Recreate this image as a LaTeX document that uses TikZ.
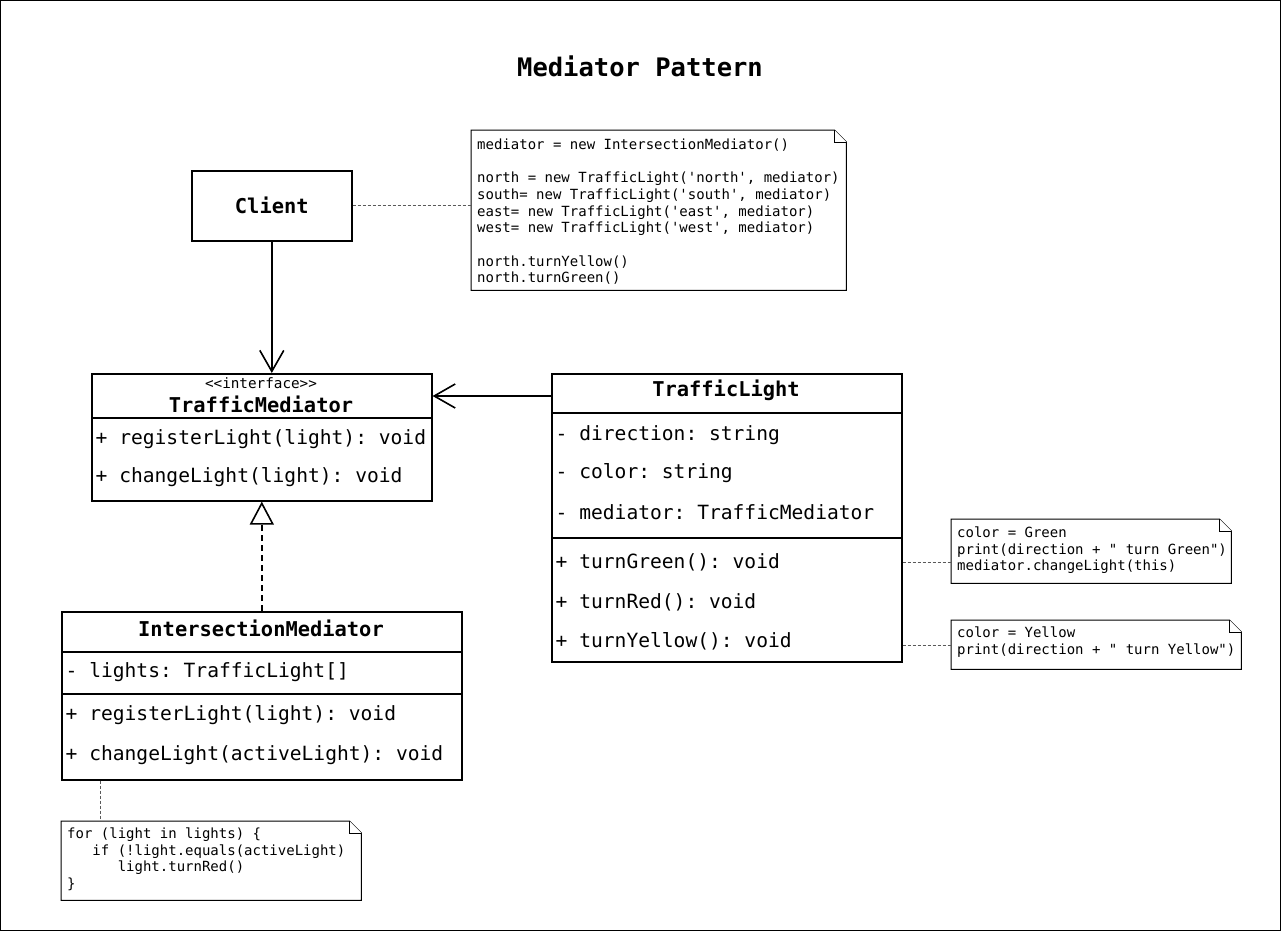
\documentclass[tikz,border=0pt]{standalone}
\usepackage{fontspec}
\setmonofont{DejaVu Sans Mono}
\usetikzlibrary{arrows.meta}
\newcommand\notefold[1]{%
  \draw[noteline] (#1.north west) -- ([xshift=-12pt]#1.north east) -- ([yshift=-12pt]#1.north east) -- (#1.south east) -- (#1.south west) -- cycle;
  \draw[noteline] ([xshift=-12pt]#1.north east) |- ([yshift=-12pt]#1.north east);}
\newcommand\sq{\textquotesingle}
\newcommand\dq{\textquotedbl}
\begin{document}
\begin{tikzpicture}[x=1pt,y=-1pt,
  box/.style={draw, line width=1.6pt, anchor=north west, inner sep=0pt, fill=white},
  cname/.style={font=\ttfamily\bfseries\frenchspacing\fontsize{20.4}{24}\selectfont, inner sep=0pt},
  row/.style={font=\ttfamily\frenchspacing\fontsize{19.6}{24}\selectfont, anchor=west, inner sep=0pt},
  stereo/.style={font=\ttfamily\fontsize{14.3}{17}\selectfont, inner sep=0pt},
  titlefont/.style={font=\ttfamily\bfseries\fontsize{25.5}{30}\selectfont, inner sep=0pt},
  notebox/.style={anchor=north west, inner sep=0pt, draw=none},
  notetext/.style={font=\ttfamily\frenchspacing\fontsize{14}{16.7}\selectfont, align=left, anchor=north west, inner sep=0pt},
  noteline/.style={draw=black, line width=1pt, fill=white},
  divider/.style={line width=1.6pt},
  assoc/.style={line width=1.6pt, -{Straight Barb[length=21pt,width=24pt]}},
  real/.style={line width=2pt, dash pattern=on 6pt off 4pt, -{Triangle[length=23pt,width=24pt,fill=white,line width=1.6pt]}},
  dotline/.style={draw=black!65, line width=1pt, dash pattern=on 3pt off 2pt}]
\useasboundingbox (0,0) rectangle (1281,931);
\draw[line width=1pt] (0.5,0.5) rectangle (1280.5,930.5);

\node[titlefont] (title) at (640,66) {Mediator Pattern};

% Client
\node[box, cname, inner sep=0pt, minimum width=160pt, minimum height=70pt] (client) at (191,170) {Client};

% Note 1
\node[notebox, minimum width=375pt, minimum height=160pt] (n1) at (471,130) {};
\notefold{n1}
\node[notetext] (n1t) at (477,138.5) {mediator = new IntersectionMediator()\\[16.7pt]
north = new TrafficLight(\sq north\sq, mediator)\\
south= new TrafficLight(\sq south\sq, mediator)\\
east= new TrafficLight(\sq east\sq, mediator)\\
west= new TrafficLight(\sq west\sq, mediator)\\[16.7pt]
north.turnYellow()\\
north.turnGreen()};

% TrafficMediator
\node[box, minimum width=340pt, minimum height=127pt] (tm) at (91,373) {};
\draw[divider] (91,418) -- (431,418);
\node[stereo] (tmst) at (261,383) {<<interface>>};
\node[cname] (tmname) at (261,404) {TrafficMediator};
\node[row] (tmr1) at (95.5,439) {+ registerLight(light): void};
\node[row] (tmr2) at (95.5,477) {+ changeLight(light): void};

% TrafficLight
\node[box, minimum width=350pt, minimum height=288pt] (tl) at (551,373) {};
\draw[divider] (551,413) -- (901,413);
\draw[divider] (551,538) -- (901,538);
\node[cname] (tlname) at (726,390) {TrafficLight};
\node[row] (tla1) at (555.5,435) {- direction: string};
\node[row] (tla2) at (555.5,473) {- color: string};
\node[row] (tla3) at (555.5,512) {- mediator: TrafficMediator};
\node[row] (tgreen) at (555.5,562) {+ turnGreen(): void};
\node[row] (tred) at (555.5,602) {+ turnRed(): void};
\node[row] (tyellow) at (555.5,641) {+ turnYellow(): void};

% IntersectionMediator
\node[box, minimum width=400pt, minimum height=168pt] (im) at (61,611) {};
\draw[divider] (61,652) -- (461,652);
\draw[divider] (61,694) -- (461,694);
\node[cname] (imname) at (261,628) {IntersectionMediator};
\node[row] (ima1) at (65.5,672) {- lights: TrafficLight[]};
\node[row] (imr1) at (65.5,715) {+ registerLight(light): void};
\node[row] (imr2) at (65.5,755) {+ changeLight(activeLight): void};

% Notes on TrafficLight
\node[notebox, minimum width=280pt, minimum height=64pt] (ng) at (951,519) {};
\notefold{ng}
\node[notetext] (ngt) at (957,526.4) {color = Green\\
print(direction + \dq{} turn Green\dq)\\
mediator.changeLight(this)};

\node[notebox, minimum width=290pt, minimum height=49pt] (ny) at (951,620) {};
\notefold{ny}
\node[notetext] (nyt) at (957,626.4) {color = Yellow\\
print(direction + \dq{} turn Yellow\dq)};

% Note on IntersectionMediator
\node[notebox, minimum width=300pt, minimum height=79pt] (nim) at (61,821) {};
\notefold{nim}
\node[notetext] (nimt) at (67,827.4) {for (light in lights) \{\\
\hphantom{xxx}if (!light.equals(activeLight)\\
\hphantom{xxxxxx}light.turnRed()\\
\}};

% Connectors
\draw[assoc] (client.south) -- (client.south |- tm.north);
\draw[assoc] ([yshift=-23pt]tl.north west) -- ([yshift=-23pt]tl.north west -| tm.east);
\draw[real] (im.north) -- (tm.south);
\draw[dotline] (client.east) -- (client.east -| n1.west);
\draw[dotline] (tl.east |- tgreen.west) -- (ng.west |- tgreen.west);
\draw[dotline] ([yshift=-4pt]tl.east |- tyellow.west) -- ([yshift=-4pt]ny.west |- tyellow.west);
\draw[dotline] ([xshift=39pt]im.south west) -- ([xshift=39pt]nim.north west);
\end{tikzpicture}
\end{document}
